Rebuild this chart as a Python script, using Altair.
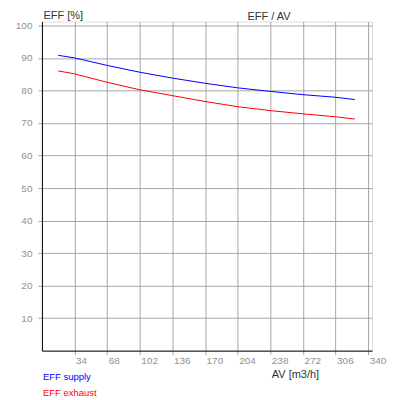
import altair as alt
import pandas as pd

av = [17, 34, 68, 102, 136, 170, 204, 238, 272, 306, 326]
eff_supply = [90.8, 90.0, 87.7, 85.6, 83.8, 82.2, 80.8, 79.7, 78.7, 77.9, 77.2]
eff_exhaust = [86.0, 85.1, 82.5, 80.2, 78.4, 76.6, 75.0, 73.8, 72.8, 71.9, 71.2]
series = ["EFF supply", "EFF exhaust"]
colors = ["#0000ff", "#ff0000"]
x_ticks = [34, 68, 102, 136, 170, 204, 238, 272, 306, 340]
y_ticks = [10, 20, 30, 40, 50, 60, 70, 80, 90, 100]

rows = []
for a, s, e in zip(av, eff_supply, eff_exhaust):
    rows.append({"AV": a, "EFF": s, "series": series[0]})
    rows.append({"AV": a, "EFF": e, "series": series[1]})
df = pd.DataFrame(rows)

FONT = "Liberation Sans"
GRID = "#a6a6a6"

x = alt.X(
    "AV:Q",
    scale=alt.Scale(domain=[0, 344], nice=False, zero=False),
    axis=alt.Axis(
        values=x_ticks,
        title="AV [m3/h]",
        titleFont=FONT, titleFontSize=11, titleFontWeight="normal", titleColor="#333333",
        titleAlign="left", titleBaseline="alphabetic", titleX=230, titleY=27,
        labelFont=FONT, labelFontSize=10, labelColor="#909090",
        labelAlign="left", labelBaseline="top", labelPadding=1, labelOffset=1,
        labelFlush=False, labelOverlap=False,
        grid=True, gridColor=GRID, gridWidth=1,
        ticks=True, tickColor=GRID, tickSize=4, tickWidth=1,
        domain=True, domainColor="#000000", domainWidth=1,
    ),
)
y = alt.Y(
    "EFF:Q",
    scale=alt.Scale(domain=[0, 101.2], nice=False, zero=False),
    axis=alt.Axis(
        values=y_ticks,
        title="EFF [%]",
        titleFont=FONT, titleFontSize=11, titleFontWeight="normal", titleColor="#333333",
        titleAngle=0, titleAlign="left", titleBaseline="alphabetic", titleX=1, titleY=-2.5,
        labelFont=FONT, labelFontSize=10, labelColor="#909090",
        labelBaseline="middle", labelPadding=6,
        labelFlush=False, labelOverlap=False,
        grid=True, gridColor=GRID, gridWidth=1,
        ticks=True, tickColor=GRID, tickSize=4, tickWidth=1,
        domain=True, domainColor="#000000", domainWidth=1,
    ),
)

color = alt.Color(
    "series:N",
    scale=alt.Scale(domain=series, range=colors),
    legend=None,
)

lines = (
    alt.Chart(df)
    .mark_line(strokeWidth=1)
    .encode(x=x, y=y, color=color, detail="series:N")
)

legend_supply = alt.Chart(pd.DataFrame({"label": [series[0]]})).mark_text(
    align="left", baseline="middle", font=FONT, fontSize=9.5, color=colors[0]
).encode(x=alt.value(1), y=alt.value(356), text="label:N")

legend_exhaust = alt.Chart(pd.DataFrame({"label": [series[1]]})).mark_text(
    align="left", baseline="middle", font=FONT, fontSize=9.5, color=colors[1]
).encode(x=alt.value(1), y=alt.value(372), text="label:N")

chart = (
    alt.layer(lines, legend_supply, legend_exhaust)
    .properties(
        width=331,
        height=330,
        autosize=alt.AutoSizeParams(type="none"),
        padding={"left": 34, "top": 13, "right": 20, "bottom": 60},
        title=alt.Title(
            "EFF / AV",
            anchor="start",
            frame="group",
            dx=206,
            dy=23.5,
            offset=2.5,
            font=FONT,
            fontSize=11,
            fontWeight="normal",
            color="#333333",
            baseline="alphabetic",
        ),
    )
    .configure_view(stroke=None)
    .configure(background="white")
)

chart.save("out.html", embed_options={"renderer": "svg", "actions": False})
